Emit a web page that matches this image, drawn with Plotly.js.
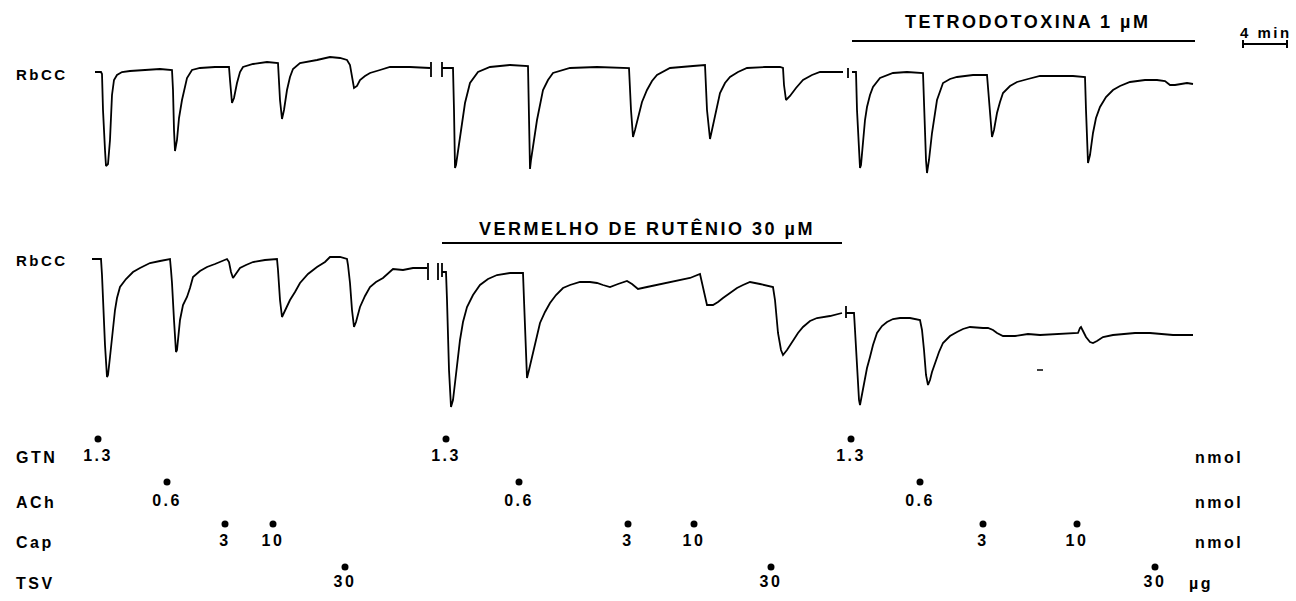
<!DOCTYPE html>
<html>
<head>
<meta charset="utf-8">
<script src="https://cdn.plot.ly/plotly-3.0.1.min.js"></script>
<style>
  html, body { margin: 0; padding: 0; background: #fff; }
  #chart { width: 1296px; height: 601px; }
  .annotation-text, .textpoint text { letter-spacing: 2.5px; }
</style>
</head>
<body>
<div id="chart"></div>
<script>
// ---- Recording traces (time position, pen position) ----
// Upper recording: control, then TTX
const topTrace = [
  [95,72],[101,72],[102,74],[103,110],[105,150],[106,166],[108,164],[110,140],[112,95],[114,80],[117,75],[122,72],[130,71],[145,70],[160,69],[172,70],
  [173,90],[174,130],[175,151],[177,140],[179,118],[182,100],[187,78],[192,70],[200,68],[215,67],[229,67],
  [230,80],[232,103],[234,98],[237,83],[240,72],[243,67],[253,64],[267,62],[278,63],
  [279,80],[280,100],[282,119],[284,110],[287,90],[290,77],[293,69],[300,63],[317,60],[330,57],[340,58],[347,60],[350,65],
  [352,75],[354,88],[357,86],[360,80],[365,76],[370,73],[380,70],[390,67],[410,67],[427,68],[430,68],
  null,[431,62],[431,77],null,
  [442,62],[442,77],null,
  [442,68],[453,68],[454,110],[455,168],[456,165],[458,150],[460,135],[462,123],[465,103],[470,83],[478,72],[490,67],[510,65],[528,66],
  [529,120],[530,169],[531,160],[533,147],[537,120],[543,90],[548,80],[553,73],[570,68],[597,67],[629,68],
  [631,110],[633,137],[635,130],[638,117],[642,102],[647,90],[652,81],[657,75],[670,68],[693,66],[705,65],
  [707,110],[710,139],[712,130],[715,117],[720,93],[725,83],[730,77],[738,72],[747,68],[765,67],[780,67],[783,68],
  [784,85],[786,100],[790,96],[796,88],[803,80],[812,75],[820,72],[843,72],
  null,[848,68],[848,78],null,
  [852,72],[856,72],[857,110],[859,160],[860,168],[861,165],[863,140],[865,120],[867,107],[870,95],[873,87],[880,78],[893,73],[907,72],[923,73],
  [924,110],[926,160],[927,173],[929,160],[932,133],[935,112],[937,100],[943,83],[950,79],[957,77],[973,75],[987,75],
  [989,100],[991,130],[992,137],[994,130],[997,113],[1000,102],[1003,93],[1010,86],[1017,82],[1028,79],[1040,76],[1073,76],[1085,77],
  [1086,110],[1087,150],[1088,163],[1090,155],[1093,133],[1096,118],[1100,107],[1106,97],[1113,90],[1120,86],[1130,82],[1145,80],[1157,80],
  [1165,81],[1170,85],[1175,85],[1180,84],[1187,83],[1193,84]
];

// Lower recording: control, then ruthenium red
const bottomTrace = [
  [92,259],[101,259],[102,275],[103,300],[105,345],[107,377],[108,375],[110,357],[112,335],[115,310],[117,298],[120,287],[126,279],[133,272],[140,268],[150,263],[160,261],[170,259],
  [171,270],[172,283],[174,320],[176,352],[177,350],[180,320],[183,305],[187,297],[190,288],[193,277],[200,271],[207,267],[215,264],[227,259],
  [229,262],[231,272],[233,278],[236,274],[240,268],[246,265],[253,262],[265,260],[277,259],
  [278,270],[280,300],[282,317],[284,313],[287,306],[290,300],[295,292],[300,283],[308,274],[317,267],[325,262],[330,257],[340,257],[347,259],
  [348,265],[350,283],[352,310],[354,327],[356,322],[360,307],[365,296],[370,287],[376,282],[383,278],[393,269],[403,270],[413,268],[427,268],
  null,[428,263],[428,280],null,[438,263],[438,280],null,
  [442,263],[442,277],null,
  [442,272],[446,272],[447,300],[449,370],[451,407],[453,400],[455,383],[457,365],[460,340],[463,322],[467,307],[473,295],[480,285],[488,279],[497,275],[510,273],[523,273],
  [524,300],[525,333],[527,378],[529,370],[533,353],[536,338],[540,323],[545,312],[550,303],[556,295],[563,288],[570,285],[580,282],[590,282],[597,283],
  [603,285],[610,287],[618,284],[627,281],[632,284],[638,289],[647,287],[657,285],[668,283],[680,280],[690,278],[700,274],
  [702,282],[705,295],[707,305],[713,305],[718,302],[723,298],[730,293],[737,288],[743,285],[750,282],[760,284],[773,287],
  [775,300],[778,333],[781,350],[783,355],[787,350],[793,340],[798,333],[803,327],[810,321],[817,318],[830,316],[842,313],
  null,[846,306],[846,318],null,
  [846,313],[854,313],[855,330],[857,370],[859,400],[860,405],[862,395],[865,380],[867,368],[870,357],[873,345],[877,333],[882,326],[887,322],[893,319],[900,318],[910,318],[920,320],
  [922,330],[924,350],[926,375],[928,385],[930,380],[932,372],[935,363],[939,352],[943,343],[950,336],[957,332],[963,329],[970,327],[978,328],[983,328],[988,328],
  [993,330],[997,333],[1003,336],[1015,336],[1028,334],[1040,335],[1055,334],[1065,334],[1078,333],[1080,328],[1081,327],[1083,331],[1086,337],[1090,342],[1093,343],
  [1097,341],[1103,337],[1113,335],[1123,334],[1135,333],[1150,333],[1160,334],[1173,335],[1183,335],[1193,335]
];
const strayMark = [[1037,370],[1043,370]];

// Drug-exposure bars and time scale
const ttxBar = [[852,41],[1195,41]];
const rrBar = [[442,243],[842,243]];
const scaleBar = [[1243,40],[1243,48],null,[1243,44],[1287,44],null,[1287,40],[1287,48]];

// Drug additions: time positions and doses
const gtnTimes = [98, 446, 851];
const gtnDoses = ['1.3', '1.3', '1.3'];
const achTimes = [167, 519, 920];
const achDoses = ['0.6', '0.6', '0.6'];
const capTimes = [225, 273, 628, 694, 983, 1077];
const capDoses = ['3', '10', '3', '10', '3', '10'];
const tsvTimes = [345, 771, 1155];
const tsvDoses = ['30', '30', '30'];

const rowNames = ['GTN', 'ACh', 'Cap', 'TSV'];
const rowUnits = ['nmol', 'nmol', 'nmol', 'µg'];

// ---- layout constants ----
const rowDotY = [439, 482, 524, 567];
const rowTextY = [457, 502, 542, 583];
const INK = '#000';
const FONT = 'Liberation Sans, Arial, sans-serif';

function xs(p) { return p.map(v => v ? v[0] : null); }
function ys(p) { return p.map(v => v ? v[1] : null); }
function line(p, w) {
  return { type: 'scatter', mode: 'lines', x: xs(p), y: ys(p), connectgaps: false,
           line: { color: INK, width: w || 1.8 }, hoverinfo: 'skip', showlegend: false };
}

const data = [
  line(topTrace), line(bottomTrace), line(strayMark, 1.5),
  line(ttxBar, 2), line(rrBar, 2), line(scaleBar, 2)
];

const groups = [[gtnTimes, gtnDoses], [achTimes, achDoses], [capTimes, capDoses], [tsvTimes, tsvDoses]];
groups.forEach((g, i) => {
  data.push({ type: 'scatter', mode: 'markers', x: g[0], y: g[0].map(() => rowDotY[i]),
              marker: { color: INK, size: 7 }, hoverinfo: 'skip', showlegend: false });
  data.push({ type: 'scatter', mode: 'text', x: g[0], y: g[0].map(() => rowTextY[i]),
              text: g[1], textposition: 'middle center',
              textfont: { family: FONT, size: 16, color: INK, weight: 'bold' },
              hoverinfo: 'skip', showlegend: false });
});

const ann = [];
function label(text, x, y, size, anchor) {
  ann.push({ text: text, x: x, y: y, xref: 'x', yref: 'y', showarrow: false,
             xanchor: anchor || 'left', yanchor: 'middle',
             font: { family: FONT, size: size, color: INK, weight: 'bold' } });
}
label('RbCC', 14, 74, 15);
label('RbCC', 14, 260, 15);
label('TETRODOTOXINA 1 µM', 1027, 22, 18, 'center');
label('VERMELHO DE RUTÊNIO 30 µM', 647, 228, 18, 'center');
label('4 min', 1266, 32, 15, 'center');
rowNames.forEach((n, i) => label(n, 14, rowTextY[i], 16));
rowUnits.forEach((u, i) => label(u, i === 3 ? 1187 : 1193, rowTextY[i], 16));

const layout = {
  width: 1296, height: 601,
  margin: { l: 0, r: 0, t: 0, b: 0 },
  paper_bgcolor: '#fff', plot_bgcolor: '#fff',
  xaxis: { range: [0, 1296], visible: false, fixedrange: true },
  yaxis: { range: [601, 0], visible: false, fixedrange: true },
  annotations: ann,
  showlegend: false
};

Plotly.newPlot('chart', data, layout, { displayModeBar: false, staticPlot: true });
</script>
</body>
</html>
